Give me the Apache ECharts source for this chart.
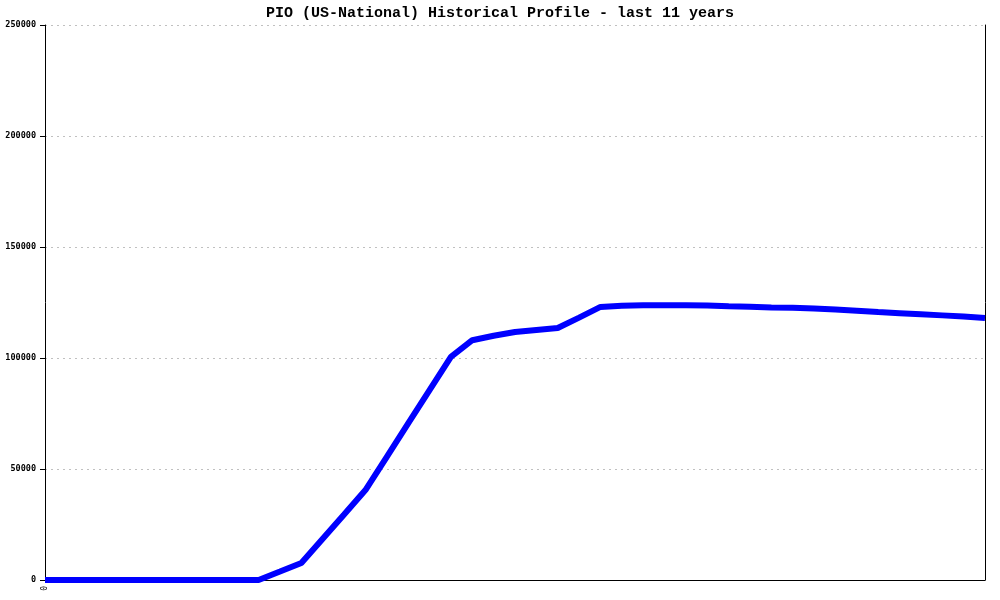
<!DOCTYPE html>
<html><head><meta charset="utf-8">
<script src="https://cdn.jsdelivr.net/npm/echarts@6/dist/echarts.min.js"></script>
<style>html,body{margin:0;padding:0;background:#fff}#c{width:1000px;height:600px}</style>
</head><body><div id="c"></div>
<script>
var titleText = 'PIO (US-National) Historical Profile - last 11 years';
var xLabels = ['0','','','','','','','','','','','','','','','','','','','','','','','','','','','','','','','','','','','','','','','','','','','',''];
var values = [0,0,0,0,0,0,0,0,0,0,0,3800,7650,18600,29500,40500,55500,70500,85500,100500,108000,110000,111700,112600,113500,118200,123000,123500,123800,123800,123800,123700,123300,123100,122800,122600,122300,121800,121300,120700,120200,119700,119200,118700,118000];
var yTicks = [0,50000,100000,150000,200000,250000];

var chart = echarts.init(document.getElementById('c'));
chart.setOption({
  animation:false,
  backgroundColor:'#fff',
  title:{text:titleText,left:'center',top:1,textStyle:{fontFamily:'Liberation Mono',fontWeight:'bold',fontSize:15,color:'#000'}},
  grid:{left:45,right:15,top:25,bottom:20},
  xAxis:{type:'category',data:xLabels,boundaryGap:false,
    axisLine:{lineStyle:{color:'#000',width:1}},
    axisTick:{show:false},
    axisLabel:{interval:0,rotate:90,fontFamily:'DejaVu Sans Mono',fontSize:8,color:'#000',margin:6},
    splitLine:{show:false}},
  yAxis:[{type:'value',min:0,max:250000,interval:50000,
    axisLine:{show:true,lineStyle:{color:'#000',width:1}},
    axisTick:{show:true,length:5,lineStyle:{color:'#000'}},
    axisLabel:{fontFamily:'DejaVu Sans Mono',fontSize:8.5,fontWeight:'bold',color:'#000',margin:9,
      formatter:function(v){return yTicks.indexOf(v)>=0?String(v):'';}},
    splitLine:{show:true,lineStyle:{color:'#c0c0c0',type:[2,4],width:1}}},
    {type:'value',position:'right',min:0,max:250000,interval:50000,
    axisLine:{show:true,lineStyle:{color:'#000',width:1}},
    axisTick:{show:false},axisLabel:{show:false},splitLine:{show:false}}],
  series:[{type:'line',data:values,symbol:'none',lineStyle:{color:'#0000ff',width:6},itemStyle:{color:'#0000ff'}}]
});
</script></body></html>
